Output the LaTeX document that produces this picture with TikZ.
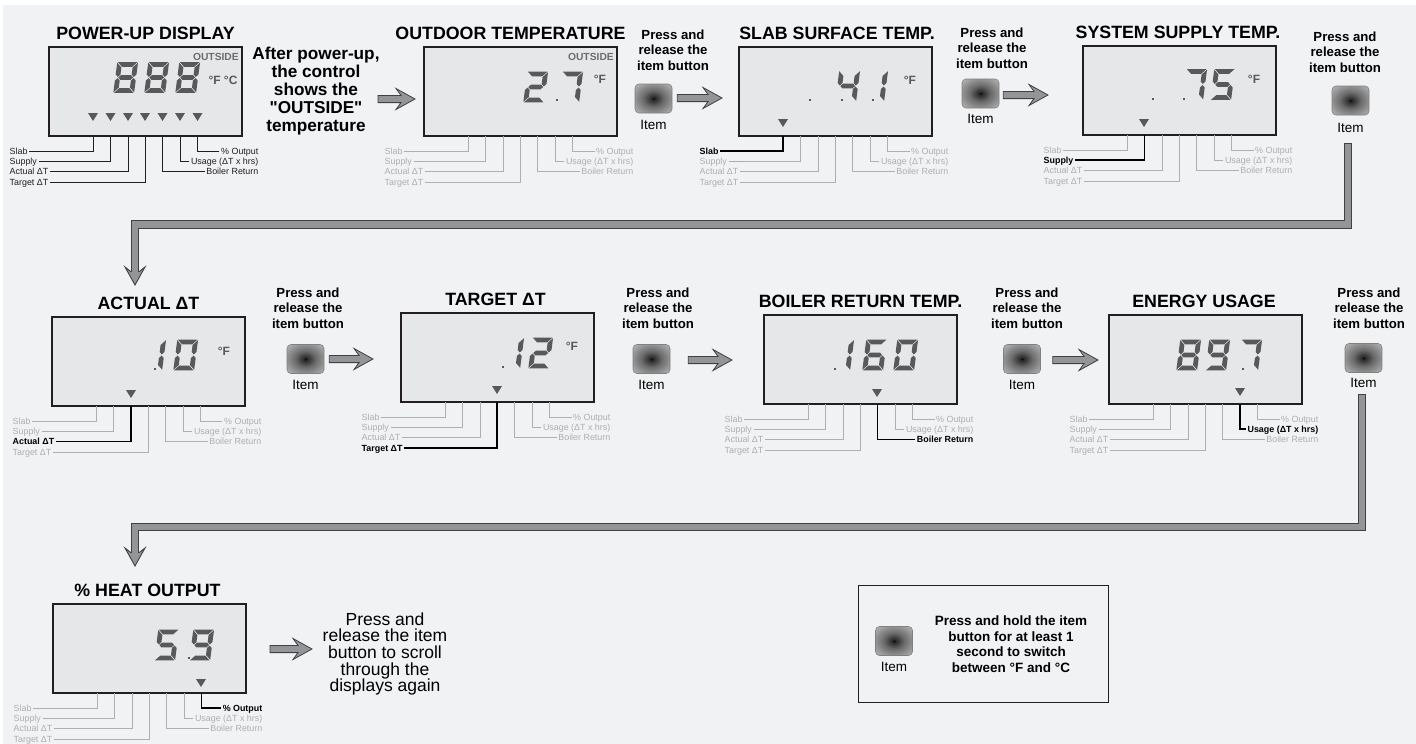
\documentclass[tikz,border=0pt]{standalone}
\usepackage{fontspec}
\setmainfont{Liberation Sans}[Ligatures=TeXOff]
\usetikzlibrary{calc}
\definecolor{bgc}{HTML}{F1F2F3}
\definecolor{lcdc}{HTML}{E6E7E8}
\definecolor{segc}{HTML}{58595B}
\definecolor{lightgc}{HTML}{ADAFB2}
\definecolor{darkgc}{HTML}{231F20}
\definecolor{arrf}{HTML}{939598}
\definecolor{arrd}{HTML}{414042}
\definecolor{outc}{HTML}{6D6E71}
\pgfdeclareradialshading{btnshade}{\pgfpoint{0bp}{0bp}}{color(0bp)=(black);color(2bp)=(black!85);color(14bp)=(black!58);color(32bp)=(black!32);color(50bp)=(black!16)}
\tikzset{
 lcd/.style={draw=darkgc, fill=lcdc, line width=1.1pt, minimum width=193pt, minimum height=89pt, inner sep=0, outer sep=0, anchor=north west},
 ttl/.style={font=\fontsize{17.8}{20}\selectfont\bfseries, anchor=base, inner sep=0},
 prs/.style={font=\fontsize{13.2}{15.5}\selectfont\bfseries, align=center, inner sep=0},
 itm/.style={font=\fontsize{13.5}{16}\selectfont, inner sep=0},
 btn/.style={draw=black!50, line width=0.6pt, rounded corners=4pt, minimum width=37pt, minimum height=29pt, inner sep=0, shade, shading=btnshade},
 outs/.style={font=\fontsize{10.3}{12}\selectfont\bfseries, text=outc, inner sep=0},
 degf/.style={font=\fontsize{12}{14}\selectfont\bfseries, text=segc, inner sep=0},
 lgtxt/.style={font=\fontsize{8.9}{10}\selectfont, inner sep=1.5pt, text height=6.4pt, text depth=0pt},
 lgtd/.style={text=darkgc}, lgtl/.style={text=lightgc},
 lgthi/.style={text=black, font=\fontsize{8.9}{10}\selectfont\bfseries},
 lgld/.style={draw=darkgc, line width=0.6pt}, lgll/.style={draw=lightgc, line width=0.6pt},
 lglhi/.style={draw=black, line width=1.6pt},
 shout/.style={draw=arrd, line width=8.4pt, line join=miter},
 shin/.style={draw=arrf, line width=6.2pt, line join=miter},
}
\def\sgma{\fill[segc] (-1.8,-28.4) -- (17.8,-28.4) -- (13,-23.6) -- (3,-23.6) -- cycle;}
\def\sgmd{\fill[segc] (-1.8,2.4) -- (17.8,2.4) -- (13,-2.4) -- (3,-2.4) -- cycle;}
\def\sgmg{\fill[segc] (3,-15.4) -- (13,-15.4) -- (15.4,-13) -- (13,-10.6) -- (3,-10.6) -- (0.6,-13) -- cycle;}
\def\sgmf{\fill[segc] (-2.4,-27.8) -- (2.4,-23) -- (2.4,-16) -- (0,-13.6) -- (-2.4,-16) -- cycle;}
\def\sgme{\fill[segc] (-2.4,-10) -- (0,-12.4) -- (2.4,-10) -- (2.4,-3) -- (-2.4,1.8) -- cycle;}
\def\sgmb{\fill[segc] (18.4,-27.8) -- (13.6,-23) -- (13.6,-16) -- (16,-13.6) -- (18.4,-16) -- cycle;}
\def\sgmc{\fill[segc] (18.4,-10) -- (16,-12.4) -- (13.6,-10) -- (13.6,-3) -- (18.4,1.8) -- cycle;}
\newcommand\lcddigit[3]{\begin{scope}[shift={(#1,#2)},xslant=0.13]\foreach \s in {#3}{\csname sgm\s\endcsname}\end{scope}}
\newcommand\ldot[2]{\fill[segc] (#1-1.2,#2-1.2) rectangle (#1+1.2,#2+1.2);}
\newcommand\ltri[2]{\fill[segc] (#1-5,#2-4) -- (#1+5,#2-4) -- (#1,#2+4) -- cycle;}
\newcommand\lcdlegend[3]{%
 \foreach \i/\ox/\dy/\sd/\tx in {1/44/15/l/Slab,2/61.5/25/l/Supply,3/79/35.5/l/Actual ΔT,4/96/46/l/Target ΔT,5/113.5/35.5/r/Boiler Return,6/131/25/r/Usage (ΔT x hrs),7/148.5/15/r/\% Output}{%
  \ifnum\i=#2\relax \def\lgt{lgthi}\def\lgl{lglhi}\else\def\lgt{lgt#3}\def\lgl{lgl#3}\fi
  \if\sd l%
   \node[lgtxt,\lgt,anchor=west] (#1l\i) at ($(#1.south west)+(-41,\dy)$) {\tx};
   \draw[\lgl] (#1l\i.east) -| ($(#1.south west)+(\ox,0)$);
  \else
   \node[lgtxt,\lgt,anchor=east] (#1l\i) at ($(#1.south west)+(211,\dy)$) {\tx};
   \draw[\lgl] (#1l\i.west) -| ($(#1.south west)+(\ox,0)$);
  \fi}}
\newcommand\lcdpanel[5]{%
 \node[lcd] (#1) at (#2,#3) {};
 \node[ttl] (#1t) at ($(#1.north)+(#5,-7.5)$) {#4};}
\newcommand\harrow[2]{\filldraw[fill=arrf, draw=arrd, line width=0.8pt, line join=miter] ($(#1)+(0,-3.6)$) -- ($(#2)+(-14,-3.6)$) -- ($(#2)+(-19,-10.5)$) -- (#2) -- ($(#2)+(-19,10.5)$) -- ($(#2)+(-14,3.6)$) -- ($(#1)+(0,3.6)$) -- cycle;}
\newcommand\dhead[1]{\fill[arrf] (#1) -- ++(-10,-18) -- ++(6.3,5) -- ++(7.4,0) -- ++(6.3,-5) -- cycle;
 \draw[arrd, line width=0.9pt, line join=miter] (#1) ++(-3.7,-13) -- ++(-6.3,-5) -- (#1) -- ++(10,-18) -- ++(-6.3,5);}
\begin{document}
\begin{tikzpicture}[x=1pt,y=-1pt]
\useasboundingbox (0,0) rectangle (1416,744);
\fill[white] (0,0) rectangle (1416,744);
\fill[bgc] (3,5) rectangle (1416,744);

% ---------- Row 1 ----------
\lcdpanel{d1}{49}{47}{POWER-UP DISPLAY}{0}
\node[outs, anchor=east] (d1o) at ($(d1.north east)+(-3,10)$) {OUTSIDE};
\lcddigit{116}{90.5}{a,b,c,d,e,f,g}
\lcddigit{147}{90.5}{a,b,c,d,e,f,g}
\lcddigit{178}{90.5}{a,b,c,d,e,f,g}
\node[degf] (d1f) at (223,80) {°F °C};
\foreach \o in {44,61.5,79,96,113.5,131,148.5} {\ltri{49+\o}{117}}
\lcdlegend{d1}{0}{d}

\node[font=\fontsize{17.2}{18}\selectfont\bfseries, align=center, inner sep=0] (aft) at (316,91) {After power-up,\\the control\\shows the\\"OUTSIDE"\\temperature};

\lcdpanel{d2}{424}{47}{OUTDOOR TEMPERATURE}{-10}
\coordinate (a1s) at (378,99);
\coordinate (a1e) at ($(d2.west |- a1s)+(-9,0)$);
\harrow{a1s}{a1e}
\node[outs, anchor=east] (d2o) at ($(d2.north east)+(-3,10)$) {OUTSIDE};
\lcddigit{526}{100}{a,b,g,e,d}
\lcddigit{561}{100}{a,b,c}
\ldot{557}{100}
\node[degf] (d2f) at (600,79) {°F};
\lcdlegend{d2}{0}{l}

\node[prs] (p1) at (673,50) {Press and\\release the\\item button};
\node[btn] (b1) at (653.5,98.5) {};
\node[itm] (i1) at (653.5,125) {Item};

\lcdpanel{d3}{739}{47}{SLAB SURFACE TEMP.}{1.5}
\coordinate (a2s) at ($(b1.east)+(5,-0.5)$);
\coordinate (a2e) at ($(d3.west |- a2s)+(-17,0)$);
\harrow{a2s}{a2e}
\lcddigit{838}{99}{f,g,b,c}
\lcddigit{866}{99}{b,c}
\ldot{810}{100}\ldot{842}{100}\ldot{873}{100}
\node[degf] (d3f) at (910,80) {°F};
\ltri{783}{123}
\lcdlegend{d3}{1}{l}

\node[prs] (p2) at (992,48) {Press and\\release the\\item button};
\node[btn] (b2) at (980.5,93.5) {};
\node[itm] (i2) at (980.5,119) {Item};

\lcdpanel{d4}{1083}{46}{SYSTEM SUPPLY TEMP.}{-1.5}
\coordinate (a3s) at ($(b2.east)+(4,1.5)$);
\coordinate (a3e) at ($(d4.west |- a3s)+(-35,0)$);
\harrow{a3s}{a3e}
\lcddigit{1185}{97.5}{a,b,c}
\lcddigit{1213}{97.5}{a,f,g,c,d}
\ldot{1153}{99}\ldot{1184}{99}
\node[degf] (d4f) at (1254,79) {°F};
\ltri{1144}{123}
\lcdlegend{d4}{2}{l}

\node[prs] (p3) at (1345,52) {Press and\\release the\\item button};
\node[btn] (b3) at (1350.5,100.5) {};
\node[itm] (i3) at (1350.5,128) {Item};

% connector row1 -> row2
\coordinate (c8s) at ($(i3.south)+(-2.5,10)$);
\coordinate (c8m) at (135,224.5);
\coordinate (c8t) at (135,285);
\draw[shout] (c8s) |- (c8m) -- ($(c8t)+(0,-13)$);
\draw[shin] ($(c8s)+(0,1.1)$) |- (c8m) -- ($(c8t)+(0,-12)$);
\dhead{c8t}

% ---------- Row 2 ----------
\lcdpanel{dA}{52}{317}{ACTUAL ΔT}{0}
\lcddigit{144}{368}{b,c}
\lcddigit{176}{368}{a,b,c,d,e,f}
\ldot{155}{369}
\node[degf] (dAf) at (224,351) {°F};
\ltri{131}{394}
\lcdlegend{dA}{3}{l}

\node[prs] (pA) at (308,308) {Press and\\release the\\item button};
\node[btn] (bA) at (305.5,359) {};
\node[itm] (iA) at (305.5,385) {Item};

\lcdpanel{dT}{401}{313}{TARGET ΔT}{-2}
\coordinate (a4s) at ($(bA.east)+(5,0)$);
\coordinate (a4e) at ($(dT.west |- a4s)+(-28,0)$);
\harrow{a4s}{a4e}
\lcddigit{502}{366}{b,c}
\lcddigit{531}{366}{a,b,g,e,d}
\ldot{503}{367}
\node[degf] (dTf) at (572,346) {°F};
\ltri{497}{390}
\lcdlegend{dT}{4}{l}

\node[prs] (pT) at (658,308) {Press and\\release the\\item button};
\node[btn] (bT) at (651.5,359) {};
\node[itm] (iT) at (651.5,385) {Item};

\lcdpanel{dB}{764}{315}{BOILER RETURN TEMP.}{0}
\coordinate (a5s) at ($(bT.east)+(18,1)$);
\coordinate (a5e) at ($(dB.west |- a5s)+(-32,0)$);
\harrow{a5s}{a5e}
\lcddigit{832}{368}{b,c}
\lcddigit{865}{368}{a,f,g,e,d,c}
\lcddigit{896}{368}{a,b,c,d,e,f}
\ldot{835}{369}
\ltri{877}{393}
\lcdlegend{dB}{5}{l}

\node[prs] (pB) at (1027,308) {Press and\\release the\\item button};
\node[btn] (bB) at (1022,359) {};
\node[itm] (iB) at (1022,385) {Item};

\lcdpanel{dE}{1109}{315}{ENERGY USAGE}{-1.5}
\coordinate (a6s) at ($(bB.east)+(12,1)$);
\coordinate (a6e) at ($(dE.west |- a6s)+(-11,0)$);
\harrow{a6s}{a6e}
\lcddigit{1179}{368}{a,b,c,d,e,f,g}
\lcddigit{1208}{368}{a,b,c,d,f,g}
\lcddigit{1240}{368}{a,b,c}
\ldot{1243}{369}
\ltri{1240}{392}
\lcdlegend{dE}{6}{l}

\node[prs] (pE) at (1369,308) {Press and\\release the\\item button};
\node[btn] (bE) at (1363.5,358) {};
\node[itm] (iE) at (1363.5,383) {Item};

% connector row2 -> row3
\coordinate (c9s) at ($(iE.south)+(-1.5,6)$);
\coordinate (c9m) at (135,527);
\coordinate (c9t) at (135,566);
\draw[shout] (c9s) |- (c9m) -- ($(c9t)+(0,-13)$);
\draw[shin] ($(c9s)+(0,1.1)$) |- (c9m) -- ($(c9t)+(0,-12)$);
\dhead{c9t}

% ---------- Row 3 ----------
\lcdpanel{dH}{53}{604}{\% HEAT OUTPUT}{-2}
\lcddigit{157}{658}{a,f,g,c,d}
\lcddigit{192}{658}{a,b,c,d,f,g}
\ldot{189}{658}
\ltri{201}{683}
\lcdlegend{dH}{7}{l}

\coordinate (a7s) at ($(dH.east)+(24,0.5)$);
\coordinate (a7e) at ($(a7s)+(42,0)$);
\harrow{a7s}{a7e}
\node[font=\fontsize{17.5}{16.6}\selectfont, align=center, inner sep=0] (scr) at (385,654) {Press and\\release the item\\button to scroll\\through the\\displays again};

\node[draw=darkgc, line width=0.9pt, minimum width=250pt, minimum height=117pt, inner sep=0, outer sep=0, anchor=north west] (hold) at (858,585) {};
\node[btn] (bX) at (894,641) {};
\node[itm] (iX) at (894,667) {Item};
\node[font=\fontsize{13.5}{15.5}\selectfont\bfseries, align=center, inner sep=0] (holdt) at (1011,644) {Press and hold the item\\button for at least 1\\second to switch\\between °F and °C};
\end{tikzpicture}
\end{document}
